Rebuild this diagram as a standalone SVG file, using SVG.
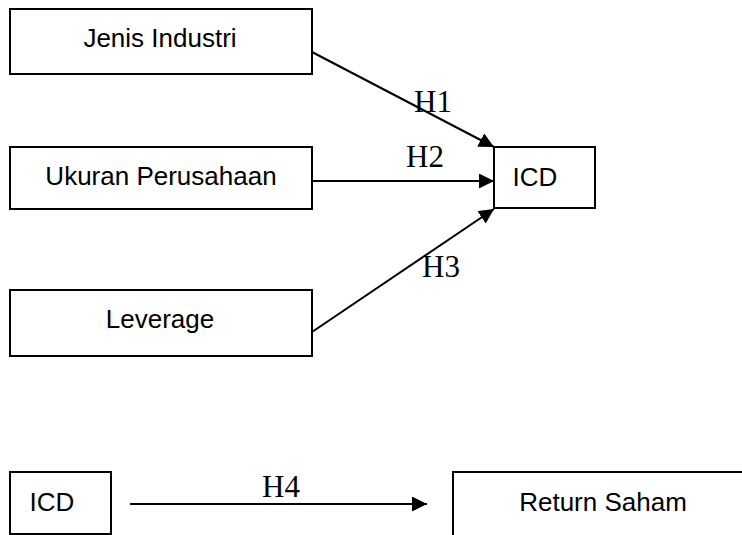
<svg xmlns="http://www.w3.org/2000/svg" width="742" height="535" viewBox="0 0 742 535">
<style>
.box{fill:#fff;stroke:#000;stroke-width:2}
.lbl{font-family:"Liberation Sans",Arial,sans-serif;font-size:26px;fill:#000;text-anchor:middle}
.h{font-family:"Liberation Serif","Times New Roman",serif;font-size:31px;fill:#000}
.c{stroke:#000;stroke-width:2;fill:none;marker-end:url(#ah)}
</style>
<defs>
<marker id="ah" markerUnits="userSpaceOnUse" markerWidth="16" markerHeight="16" refX="15" refY="7.5" orient="auto">
<path d="M0,0 L15,7.5 L0,15 Z" fill="#000"/>
</marker>
</defs>
<g id="jenis"><rect class="box" x="10" y="9" width="302" height="65"/><text class="lbl" x="160" y="47">Jenis Industri</text></g>
<g id="ukuran"><rect class="box" x="10" y="147" width="302" height="62"/><text class="lbl" x="161" y="185">Ukuran Perusahaan</text></g>
<g id="leverage"><rect class="box" x="10" y="290" width="302" height="66"/><text class="lbl" x="160" y="328">Leverage</text></g>
<g id="icd1"><rect class="box" x="494" y="147" width="101" height="61"/><text class="lbl" x="535" y="186">ICD</text></g>
<g id="icd2"><rect class="box" x="10" y="472" width="101" height="62"/><text class="lbl" x="52" y="511">ICD</text></g>
<g id="return"><rect class="box" x="453" y="472" width="300" height="80"/><text class="lbl" x="603" y="511">Return Saham</text></g>
<g id="connectors">
<line class="c" x1="312" y1="52" x2="494" y2="147"/>
<line class="c" x1="312" y1="181" x2="494" y2="181"/>
<line class="c" x1="312" y1="332" x2="494" y2="209"/>
<line class="c" x1="130" y1="504" x2="427" y2="504"/>
<text class="h" x="414" y="112">H1</text>
<text class="h" x="406" y="167">H2</text>
<text class="h" x="422" y="277">H3</text>
<text class="h" x="262" y="497">H4</text>
</g>
</svg>
